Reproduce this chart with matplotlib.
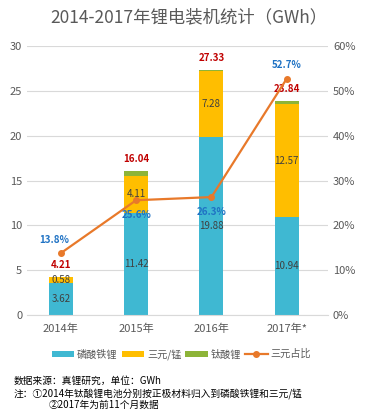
import matplotlib.pyplot as plt
import numpy as np

plt.rcParams['font.family'] = ['Noto Sans CJK SC', 'DejaVu Sans']

years = ['2014年', '2015年', '2016年', '2017年*']
lfp = [3.62, 11.42, 19.88, 10.94]
ncm = [0.58, 4.11, 7.28, 12.57]
totals = [4.21, 16.04, 27.33, 23.84]
lto = [t - a - b for t, a, b in zip(totals, lfp, ncm)]
ncm_share = [13.8, 25.6, 26.3, 52.7]

c_lfp = '#3FB8D2'
c_ncm = '#FFBE00'
c_lto = '#8DB438'
c_line = '#E8792A'
grey = '#595959'

fig = plt.figure(figsize=(3.78, 4.13), dpi=100)
ax = fig.add_axes([0.0714, 0.2373, 0.7966, 0.6513])
ax2 = ax.twinx()

x = np.arange(len(years))
w = 0.32
ax.bar(x, lfp, w, color=c_lfp, label='磷酸铁锂', zorder=2)
ax.bar(x, ncm, w, bottom=lfp, color=c_ncm, label='三元/锰', zorder=2)
bottom2 = [a + b for a, b in zip(lfp, ncm)]
ax.bar(x, lto, w, bottom=bottom2, color=c_lto, label='钛酸锂', zorder=2)

for i in range(len(x)):
    ax.text(x[i], lfp[i] / 2, f'{lfp[i]:.2f}', ha='center', va='center', fontsize=7, color='#404040')
    ax.text(x[i], lfp[i] + ncm[i] / 2, f'{ncm[i]:.2f}', ha='center', va='center', fontsize=7, color='#404040')
    ax.annotate(f'{totals[i]:.2f}', (x[i], totals[i]), xytext=(0, 5), textcoords='offset points',
                ha='center', va='bottom', fontsize=7, color='#C00000', fontweight='bold')

ax.set_ylim(0, 30)
ax.set_yticks(range(0, 31, 5))
ax.set_xlim(-0.45, 3.55)
ax.set_xticks(x)
ax.set_xticklabels(years)
ax.grid(axis='y', color='#D9D9D9', linewidth=0.8, zorder=0)
ax.set_axisbelow(True)

ax2.plot(x, ncm_share, color=c_line, linewidth=1.6, marker='o', markersize=4, label='三元占比', zorder=3)
ax2.set_ylim(0, 60)
ax2.set_yticks(range(0, 61, 10))
ax2.set_yticklabels([f'{v}%' for v in range(0, 61, 10)])

offsets = [(-5, 6), (0, -7), (0, -7), (0, 6)]
for i in range(len(x)):
    ax2.annotate(f'{ncm_share[i]}%', (x[i], ncm_share[i]), xytext=offsets[i], textcoords='offset points',
                 ha='center', va='bottom' if offsets[i][1] > 0 else 'top', fontsize=7,
                 color='#1F72C4', fontweight='bold')

for a in (ax, ax2):
    for s in a.spines.values():
        s.set_visible(False)
    a.tick_params(length=0, labelsize=8, colors=grey)
ax.spines['bottom'].set_visible(True)
ax.spines['bottom'].set_color('#D9D9D9')
ax.tick_params(axis='x', pad=6)

fig.text(0.5, 0.958, '2014-2017年锂电装机统计（GWh）', ha='center', va='center', fontsize=12.5, color=grey)

h1, l1 = ax.get_legend_handles_labels()
h2, l2 = ax2.get_legend_handles_labels()
fig.legend(h1 + h2, l1 + l2, loc='center', bbox_to_anchor=(0.48, 0.142), ncol=4, frameon=False,
           fontsize=7.3, handlelength=2.2, handleheight=0.6, columnspacing=0.4, handletextpad=0.3,
           labelcolor=grey)

fig.text(0.037, 0.079, '数据来源：真锂研究，单位：GWh', fontsize=7, color='black', va='center')
fig.text(0.037, 0.048, '注：①2014年钛酸锂电池分别按正极材料归入到磷酸铁锂和三元/锰', fontsize=7, color='black', va='center')
fig.text(0.13, 0.019, '②2017年为前11个月数据', fontsize=7, color='black', va='center')

fig.savefig('out.png', dpi=100)
